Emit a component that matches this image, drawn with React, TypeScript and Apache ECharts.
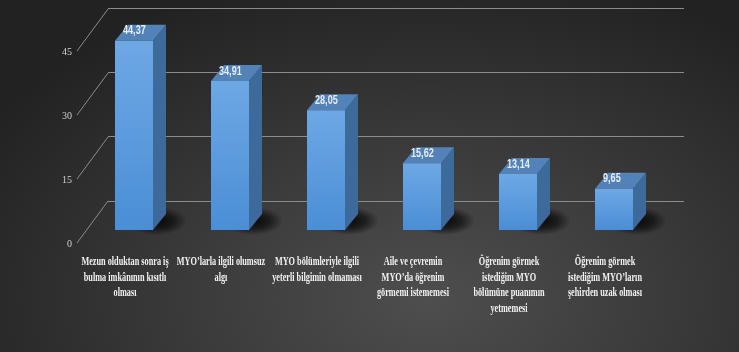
import React, { useEffect, useRef } from "react";
import * as echarts from "echarts";

const categories: string[] = [
  "Mezun olduktan sonra iş\nbulma imkânının kısıtlı\nolması",
  "MYO’larla ilgili olumsuz\nalgı",
  "MYO bölümleriyle ilgili\nyeterli bilgimin olmaması",
  "Aile ve çevremin\nMYO’da öğrenim\ngörmemi istememesi",
  "Öğrenim görmek\nistediğim MYO\nbölümüne puanımın\nyetmemesi",
  "Öğrenim görmek\nistediğim MYO’ların\nşehirden uzak olması",
];
const values: number[] = [44.37, 34.91, 28.05, 15.62, 13.14, 9.65];
const yTicks: number[] = [0, 15, 30, 45];

const DX = 31; // depth of the floor (x)
const DY = -42; // depth of the floor (y)
const BAR_W = 38;
const BAR_DX = 13;
const BAR_DY = -16;

export default function App() {
  const ref = useRef<HTMLDivElement>(null);
  useEffect(() => {
    if (!ref.current) return;
    const chart = echarts.init(ref.current, null, { renderer: "svg" });
    const yBase = { type: "value", min: 0, max: 45, interval: 15 };
    const option: any = {
      animation: false,
      backgroundColor: "transparent",
      grid: [
        { left: 77, top: 51, width: 576, height: 192 },
        { left: 108, top: 8, width: 576, height: 193 },
        { left: 86, top: 38, width: 576, height: 192 },
      ],
      xAxis: [0, 1, 2].map((g) => ({
        type: "category",
        gridIndex: g,
        data: categories,
        show: false,
      })),
      yAxis: [
        {
          ...yBase,
          gridIndex: 0,
          axisLine: { show: false },
          axisTick: { show: false },
          splitLine: { show: false },
          axisLabel: {
            color: "#cfcfcf",
            fontFamily: "Liberation Serif",
            fontSize: 10,
            margin: 5,
          },
        },
        {
          ...yBase,
          gridIndex: 1,
          axisLine: { show: false },
          axisTick: { show: false },
          axisLabel: { show: false },
          splitLine: { lineStyle: { color: "#8c8c8c", width: 1 } },
        },
        { ...yBase, gridIndex: 2, show: false, splitLine: { show: false } },
      ],
      series: [
        {
          type: "custom",
          xAxisIndex: 0,
          yAxisIndex: 0,
          data: yTicks.map((v) => [0, v]),
          renderItem: (params: any, api: any) => {
            const p = api.coord([0, api.value(1)]);
            const bw = api.size([1, 0])[0];
            const x0 = p[0] - bw / 2;
            return {
              type: "line",
              shape: { x1: x0, y1: p[1], x2: x0 + DX, y2: p[1] + DY },
              style: { stroke: "#8c8c8c", lineWidth: 1 },
            };
          },
        },
        {
          type: "custom",
          xAxisIndex: 0,
          yAxisIndex: 0,
          data: categories.map((c, i) => [i, 0]),
          renderItem: (params: any, api: any) => {
            const p = api.coord([api.value(0), 0]);
            return {
              type: "text",
              x: p[0],
              y: p[1] + 10,
              scaleX: 0.66,
              style: {
                text: categories[params.dataIndex],
                fill: "#f2f2f2",
                font: "bold 12.5px 'Liberation Serif', serif",
                align: "center",
                verticalAlign: "top",
                lineHeight: 15.7,
              },
            };
          },
        },
        {
          type: "custom",
          xAxisIndex: 2,
          yAxisIndex: 2,
          data: values.map((v, i) => [i, v]),
          renderItem: (params: any, api: any) => {
            const top = api.coord([api.value(0), api.value(1)]);
            const bot = api.coord([api.value(0), 0]);
            const x0 = top[0] - BAR_W / 2;
            const x1 = top[0] + BAR_W / 2;
            const yt = top[1];
            const yb = bot[1];
            const label = api.value(1).toFixed(2).replace(".", ",");
            return {
              type: "group",
              children: [
                {
                  type: "ellipse",
                  shape: { cx: x1 + 4, cy: yb - 9, rx: 30, ry: 14 },
                  style: {
                    fill: new echarts.graphic.RadialGradient(0.5, 0.5, 0.5, [
                      { offset: 0, color: "rgba(0,0,0,0.85)" },
                      { offset: 0.55, color: "rgba(0,0,0,0.55)" },
                      { offset: 1, color: "rgba(0,0,0,0)" },
                    ]),
                  },
                },
                {
                  type: "polygon",
                  shape: {
                    points: [
                      [x1, yt],
                      [x1 + BAR_DX, yt + BAR_DY],
                      [x1 + BAR_DX, yb + BAR_DY],
                      [x1, yb],
                    ],
                  },
                  style: { fill: "#3c6a9b" },
                },
                {
                  type: "polygon",
                  shape: {
                    points: [
                      [x0, yt],
                      [x0 + BAR_DX, yt + BAR_DY],
                      [x1 + BAR_DX, yt + BAR_DY],
                      [x1, yt],
                    ],
                  },
                  style: { fill: "#5282b8" },
                },
                {
                  type: "rect",
                  shape: { x: x0, y: yt, width: BAR_W, height: yb - yt },
                  style: {
                    fill: new echarts.graphic.LinearGradient(0, 0, 0, 1, [
                      { offset: 0, color: "#6ea8e4" },
                      { offset: 1, color: "#4a8ed6" },
                    ]),
                  },
                },
                {
                  type: "text",
                  x: x0 + 8,
                  y: yt - 11,
                  scaleX: 0.7,
                  style: {
                    text: label,
                    fill: "#e6edf5",
                    font: "bold 13px 'Liberation Sans', sans-serif",
                    align: "left",
                    verticalAlign: "middle",
                  },
                },
              ],
            };
          },
        },
      ],
    };
    chart.setOption(option);
    return () => chart.dispose();
  }, []);
  return (
    <div
      style={{
        position: "fixed",
        left: 0,
        top: 0,
        width: 739,
        height: 352,
        background:
          "radial-gradient(ellipse 70% 95% at 58% 85%, #4e4e4e 0%, #3b3b3b 45%, #222222 100%)",
      }}
    >
      <div ref={ref} style={{ width: 739, height: 352 }} />
    </div>
  );
}
